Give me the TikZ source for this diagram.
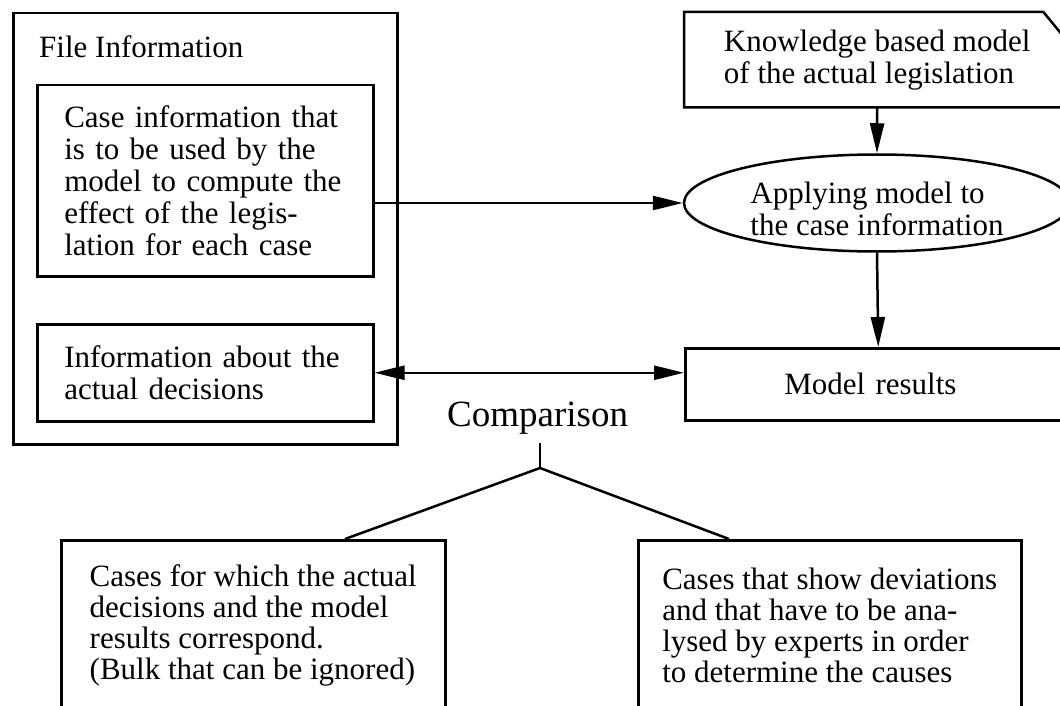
\documentclass[tikz,border=0pt]{standalone}
\usepackage{fontspec}
\setmainfont{Liberation Serif}
\usetikzlibrary{arrows.meta,shapes.geometric}
\begin{document}
\begin{tikzpicture}[x=1pt,y=-1pt,
  lw/.style={line width=2.5pt},
  txt/.style={font=\fontsize{31}{32}\selectfont},
  boxnode/.style={draw, lw, rectangle, inner sep=0pt, anchor=north west, align=left, txt},
  arr/.style={lw, -{Triangle[length=30pt,width=14pt]}},
  darr/.style={lw, {Triangle[length=30pt,width=14pt]}-{Triangle[length=30pt,width=14pt]}}]
\useasboundingbox (0,0) rectangle (1060,706);
\clip (0,0) rectangle (1060,706);

% File information group
\node[boxnode, minimum width=384pt, minimum height=431pt] (file) at (12,12) {};
\node[anchor=base west, inner sep=0pt, txt] (ftitle) at (39,58) {File Information};
\node[boxnode, minimum width=336pt, minimum height=191pt, text width=282pt] (case) at (36,84)
  {Case information that\\ is to be used by the\\ model to compute the\\ effect of the legis-\\ lation for each case};
\node[boxnode, minimum width=336pt, minimum height=97pt, text width=282pt] (dec) at (36,323)
  {Information about the\\ actual decisions};

% Knowledge model (document with cut corner)
\node[anchor=north west, inner sep=0pt, minimum width=386pt, minimum height=95pt,
  align=left, txt] (kb) at (684,12)
  {Knowledge based model\\ of the actual legislation};
\draw[lw] (kb.north west) -- ([xshift=-27pt]kb.north east) -- ([yshift=-33pt]kb.north east)
  -- (kb.south east) -- (kb.south west) -- cycle;

% Applying model
\node[ellipse, draw, lw, minimum width=386pt, minimum height=97pt, inner sep=0pt,
  align=left, txt] (ell) at (877,203)
  {\rule{0pt}{33pt}Applying model to\\ the case information};

% Model results
\node[boxnode, minimum width=386pt, minimum height=72pt, text width=188pt] (mr) at (684,347) {Model results};

% Comparison
\node[anchor=base west, inner sep=0pt, font=\fontsize{37}{40}\selectfont] (cmp) at (447,426) {Comparison};

\node[boxnode, font=\fontsize{31}{31}\selectfont, minimum width=384pt, minimum height=170pt] (lb) at (60,539)
  {Cases for which the actual\\ decisions and the model\\ results correspond.\\ (Bulk that can be ignored)};
\node[boxnode, font=\fontsize{31}{31}\selectfont, minimum width=383pt, minimum height=170pt] (rb) at (637,539)
  {Cases that show deviations\\ and that have to be ana-\\ lysed by experts in order\\ to determine the causes};

% Connectors
\draw[arr] (kb.south) -- (ell.north);
\draw[arr] (ell.south) -- (mr.north);
\draw[arr] (case.east |- ell.west) -- (ell.west);
\draw[darr] (dec.east) -- (dec.east -| mr.west);

\coordinate (ctop) at (540,443);
\coordinate (apex) at (540,468);
\draw[lw] (ctop) -- (apex);
\draw[lw] ([xshift=285pt]lb.north west) -- (apex) -- ([xshift=92pt]rb.north west);
\end{tikzpicture}
\end{document}
